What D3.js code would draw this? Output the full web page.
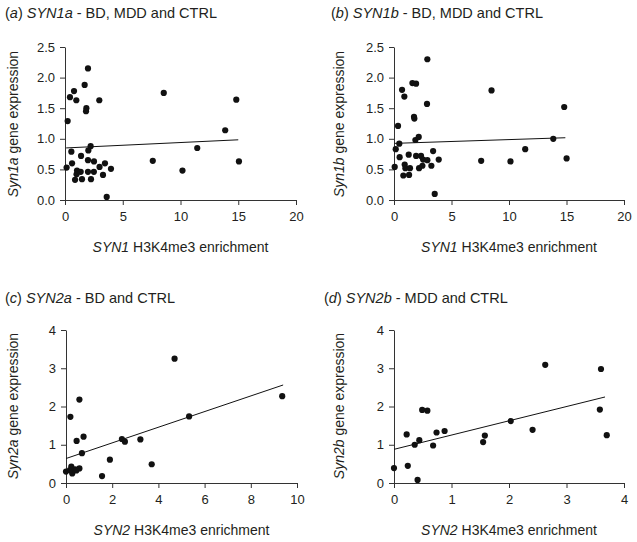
<!DOCTYPE html>
<html>
<head>
<meta charset="utf-8">
<script src="https://cdn.jsdelivr.net/npm/d3@7"></script>
<style>
  html, body { margin: 0; padding: 0; background: #fff; }
  svg { display: block; }
  text { font-family: "Liberation Sans", Arial, sans-serif; fill: #231f20; }
</style>
</head>
<body>
<svg id="chart" width="637" height="542"></svg>
<script>
// ---------- DATA ----------
// (a) SYN1a - BD, MDD and CTRL
const syn1aX = [0.14, 0.23, 0.43, 0.55, 0.61, 0.78, 0.87, 0.98, 1.04, 1.00, 1.36, 1.39, 1.47, 1.70, 1.85, 1.82, 1.99, 2.02, 2.22, 1.99, 1.99, 2.25, 2.51, 2.50, 2.97, 2.99, 3.29, 3.46, 3.61, 3.98, 7.60, 8.55, 10.17, 11.45, 13.87, 14.83, 15.06];
const syn1aY = [0.53, 1.29, 1.68, 0.79, 0.60, 1.78, 0.33, 1.63, 0.48, 0.42, 0.46, 0.72, 0.34, 1.88, 1.50, 1.45, 2.15, 0.81, 0.88, 0.65, 0.46, 0.34, 0.63, 0.46, 1.63, 0.54, 0.41, 0.60, 0.05, 0.51, 0.64, 1.75, 0.48, 0.85, 1.14, 1.64, 0.63];
// (b) SYN1b - BD, MDD and CTRL
const syn1bX = [0.06, 0.15, 0.35, 0.46, 0.49, 0.70, 0.90, 0.81, 0.93, 0.99, 1.28, 1.31, 1.39, 1.60, 1.92, 1.74, 1.77, 1.86, 2.15, 1.92, 2.35, 2.18, 2.47, 2.53, 2.90, 2.87, 2.90, 3.25, 3.40, 3.54, 3.89, 7.58, 8.48, 10.13, 11.41, 13.85, 14.80, 15.01];
const syn1bY = [0.54, 0.83, 1.21, 0.92, 0.70, 1.80, 1.69, 0.40, 0.58, 0.52, 0.74, 0.41, 0.52, 1.91, 1.90, 1.36, 1.33, 0.98, 1.03, 0.72, 0.72, 0.52, 0.56, 0.66, 2.30, 1.57, 0.65, 0.56, 0.80, 0.10, 0.66, 0.64, 1.79, 0.63, 0.83, 1.00, 1.52, 0.68];
// (c) SYN2a - BD and CTRL
const syn2aX = [0.00, 0.19, 0.58, 0.46, 0.76, 0.69, 0.23, 0.27, 0.17, 0.39, 0.58, 0.45, 1.56, 1.90, 2.42, 2.55, 3.22, 3.71, 4.70, 5.33, 9.36];
const syn2aY = [0.30, 1.73, 2.18, 1.10, 1.21, 0.78, 0.43, 0.25, 0.34, 0.36, 0.38, 0.33, 0.18, 0.61, 1.15, 1.08, 1.14, 0.49, 3.25, 1.74, 2.27];
// (d) SYN2b - MDD and CTRL
const syn2bX = [0.00, 0.22, 0.24, 0.36, 0.41, 0.44, 0.49, 0.58, 0.68, 0.74, 0.88, 1.55, 1.58, 2.03, 2.41, 2.63, 3.60, 3.58, 3.70];
const syn2bY = [0.39, 1.27, 0.45, 1.00, 0.08, 1.12, 1.91, 1.89, 0.98, 1.32, 1.36, 1.07, 1.24, 1.62, 1.39, 3.09, 2.98, 1.92, 1.25];

// regression (trend) lines: intercept, slope, x-extent
const fitIntercept = [0.85, 0.925, 0.64, 0.88];
const fitSlope     = [0.0089, 0.0062, 0.2045, 0.373];
const fitXStart    = [0.1, 0.05, 0, 0];
const fitXEnd      = [15.0, 14.9, 9.4, 3.67];

// axis ticks
const ticksY1 = [0, 0.5, 1, 1.5, 2, 2.5];
const ticksX1 = [0, 5, 10, 15, 20];
const ticksY2 = [0, 1, 2, 3, 4];
const ticksX2a = [0, 2, 4, 6, 8, 10];
const ticksX2b = [0, 1, 2, 3, 4];

// text
const panelLetters = ["a", "b", "c", "d"];
const panelGenes = ["SYN1a", "SYN1b", "SYN2a", "SYN2b"];
const panelGroups = [" - BD, MDD and CTRL", " - BD, MDD and CTRL", " - BD and CTRL", " - MDD and CTRL"];
const yGenes = ["Syn1a", "Syn1b", "Syn2a", "Syn2b"];
const xGenes = ["SYN1", "SYN1", "SYN2", "SYN2"];
const yRest = " gene expression";
const xRest = " H3K4me3 enrichment";

// ---------- LAYOUT ----------
const layout = [
  { xr: [65, 296], yr: [200, 47], xd: [0, 20], yd: [0, 2.5], xt: ticksX1, yt: ticksY1, fmt: d3.format(".1f"), xs: syn1aX, ys: syn1aY, title: [5, 18], ytl: [18, 124] },
  { xr: [394, 624], yr: [200, 47], xd: [0, 20], yd: [0, 2.5], xt: ticksX1, yt: ticksY1, fmt: d3.format(".1f"), xs: syn1bX, ys: syn1bY, title: [331, 18], ytl: [344, 124] },
  { xr: [66, 297], yr: [483, 330], xd: [0, 10], yd: [0, 4], xt: ticksX2a, yt: ticksY2, fmt: d3.format("d"), xs: syn2aX, ys: syn2aY, title: [5, 303], ytl: [18, 406] },
  { xr: [394, 624], yr: [483, 330], xd: [0, 4], yd: [0, 4], xt: ticksX2b, yt: ticksY2, fmt: d3.format("d"), xs: syn2bX, ys: syn2bY, title: [324, 303], ytl: [344, 406] }
];

const svg = d3.select("#chart");
const axisColor = "#333";

layout.forEach((p, i) => {
  const x = d3.scaleLinear().domain(p.xd).range(p.xr);
  const y = d3.scaleLinear().domain(p.yd).range(p.yr);
  const g = svg.append("g");

  // axes
  const gx = g.append("g")
    .attr("transform", `translate(0,${p.yr[0]})`)
    .call(d3.axisBottom(x).tickValues(p.xt).tickFormat(d3.format("d")).tickSize(5).tickSizeOuter(0).tickPadding(7));
  const gy = g.append("g")
    .attr("transform", `translate(${p.xr[0]},0)`)
    .call(d3.axisLeft(y).tickValues(p.yt).tickFormat(p.fmt).tickSize(5).tickSizeOuter(0).tickPadding(5));
  [gx, gy].forEach(a => {
    a.selectAll("path, line").attr("stroke", axisColor).attr("stroke-width", 1);
    a.selectAll("text").style("font-family", "'Liberation Sans', Arial, sans-serif").style("font-size", "13px").attr("fill", "#231f20");
  });

  // fit line
  const lx = [fitXStart[i], fitXEnd[i]];
  g.append("line")
    .attr("x1", x(lx[0])).attr("y1", y(fitIntercept[i] + fitSlope[i] * lx[0]))
    .attr("x2", x(lx[1])).attr("y2", y(fitIntercept[i] + fitSlope[i] * lx[1]))
    .attr("stroke", "#111").attr("stroke-width", 1);

  // points
  g.selectAll("circle.pt").data(p.xs.map((v, k) => [v, p.ys[k]]))
    .enter().append("circle").attr("class", "pt")
    .attr("cx", d => x(d[0])).attr("cy", d => y(d[1])).attr("r", 3.1)
    .attr("fill", "#111");

  // panel title
  const t = g.append("text").attr("x", p.title[0]).attr("y", p.title[1]).style("font-size", "14.5px");
  t.append("tspan").text("(");
  t.append("tspan").style("font-style", "italic").text(panelLetters[i]);
  t.append("tspan").text(") ");
  t.append("tspan").style("font-style", "italic").text(panelGenes[i]);
  t.append("tspan").text(panelGroups[i]);

  // y title
  const yt = g.append("text")
    .attr("transform", `translate(${p.ytl[0]},${p.ytl[1]}) rotate(-90)`)
    .attr("text-anchor", "middle").style("font-size", "14px");
  yt.append("tspan").style("font-style", "italic").text(yGenes[i]);
  yt.append("tspan").text(yRest);

  // x title
  const xt = g.append("text")
    .attr("x", (p.xr[0] + p.xr[1]) / 2).attr("y", p.yr[0] + 52)
    .attr("text-anchor", "middle").style("font-size", "14px");
  xt.append("tspan").style("font-style", "italic").text(xGenes[i]);
  xt.append("tspan").text(xRest);
});
</script>
</body>
</html>
